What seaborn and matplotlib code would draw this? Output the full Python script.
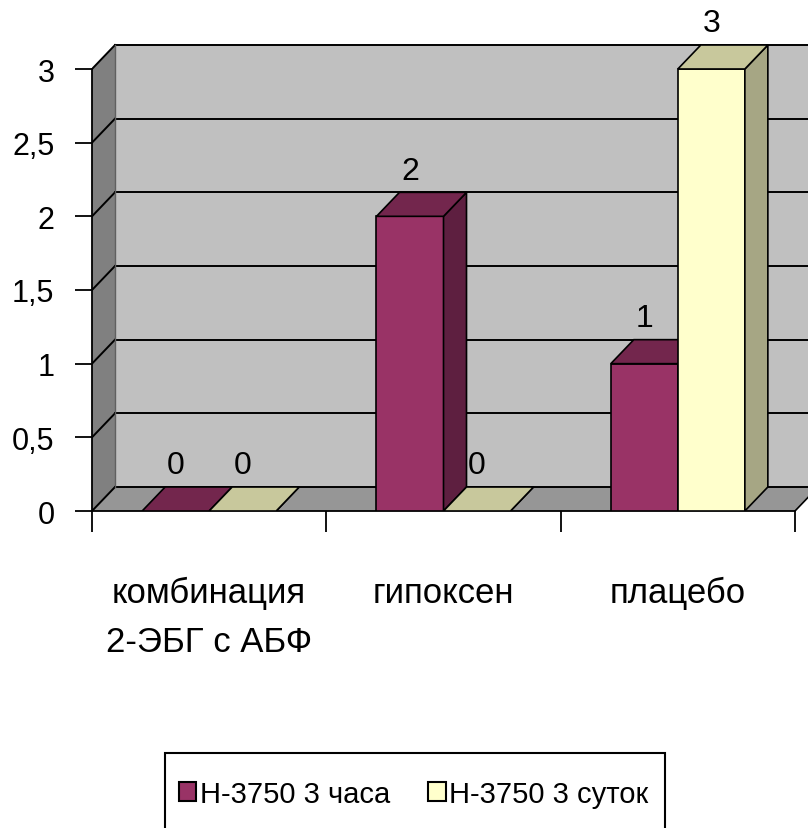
import matplotlib
matplotlib.use("Agg")
import matplotlib.pyplot as plt
from matplotlib.patches import Polygon, Rectangle
import seaborn as sns
import pandas as pd

# --- data -------------------------------------------------------------
groups = ["комбинация\n2-ЭБГ с АБФ", "гипоксен", "плацебо"]
series = ["Н-3750 3 часа", "Н-3750 3 суток"]
hours3 = [0, 2, 1]
days3 = [0, 0, 3]
y_ticks = [0, 0.5, 1, 1.5, 2, 2.5, 3]
y_tick_labels = ["0", "0,5", "1", "1,5", "2", "2,5", "3"]

df = pd.DataFrame({
    "group": groups * 2,
    "series": [series[0]] * 3 + [series[1]] * 3,
    "value": hours3 + days3,
})

# --- styling ----------------------------------------------------------
plt.rcParams["font.family"] = ["Liberation Sans", "DejaVu Sans"]

front = {series[0]: "#993366", series[1]: "#FFFFCC"}
top_col = {"#993366": "#73264D", "#FFFFCC": "#C8C89C"}
side_col = {"#993366": "#5E1F40", "#FFFFCC": "#A6A684"}
wall_back = "#C0C0C0"
wall_side = "#808080"
floor_col = "#969696"

W, H, DPI = 808, 829, 100
fig = plt.figure(figsize=(W / DPI, H / DPI), dpi=DPI)

# front plane: x from 92px (cat -0.5) to 795px (cat 2.5); y=0 at 512px, y=3 at 70px
px_cat = (795 - 92) / 3.0
px_val = (512 - 70) / 3.0
ax_left, ax_bottom = 92, 512
ax_right, ax_top = 808, 10
ax = fig.add_axes([ax_left / W, (H - ax_bottom) / H,
                   (ax_right - ax_left) / W, (ax_bottom - ax_top) / H])
x_lo, x_hi = -0.5, 2.5 + (ax_right - 795) / px_cat
y_lo, y_hi = 0, (ax_bottom - ax_top) / px_val

# depth of the 3-D box in data units
dx = 23 / px_cat
dy = 24 / px_val
bar_group_width = 0.572

sns.barplot(data=df, x="group", y="value", hue="series", palette=front,
            width=bar_group_width, edgecolor="black", linewidth=1.2, ax=ax,
            saturation=1, legend=False, errorbar=None)

# keep only the real column rectangles, one per position
single_w = bar_group_width / 2
bars = {}
for p in ax.patches:
    if abs(p.get_width() - single_w) < 0.02:
        bars.setdefault(round(p.get_x(), 3), p)
bars = [bars[k] for k in sorted(bars)]

# --- walls and floor --------------------------------------------------
x0w = -0.5
ax.add_patch(Polygon([(x0w + dx, dy), (x_hi + 1, dy), (x_hi + 1, 3 + dy), (x0w + dx, 3 + dy)],
                     closed=True, facecolor=wall_back, edgecolor="none", zorder=0.5))
ax.add_patch(Polygon([(x0w, 0), (x0w + dx, dy), (x0w + dx, 3 + dy), (x0w, 3)],
                     closed=True, facecolor=wall_side, edgecolor="none", zorder=0.5))
ax.add_patch(Polygon([(x0w, 0), (2.5, 0), (2.5 + dx, dy), (x0w + dx, dy)],
                     closed=True, facecolor=floor_col, edgecolor="none", zorder=0.6))
for v in y_ticks:
    ax.plot([x0w + dx, x_hi + 1], [v + dy, v + dy], color="black", lw=1.4, zorder=0.8)
    ax.plot([x0w, x0w + dx], [v, v + dy], color="black", lw=1.4, zorder=0.8)
ax.plot([x0w + dx, x0w + dx], [dy, 3 + dy], color="#606060", lw=1.0, zorder=0.8)
ax.plot([2.5, 2.5 + dx], [0, dy], color="black", lw=1.2, zorder=0.8)

# --- 3-D faces of the columns and value labels ----------------------
for i, p in enumerate(bars):
    z = 2 + i * 0.1
    x0, w, h = p.get_x(), p.get_width(), p.get_height()
    fc = matplotlib.colors.to_hex(p.get_facecolor()).upper()
    p.set_zorder(z)
    ax.add_patch(Polygon([(x0 + w, 0), (x0 + w + dx, dy), (x0 + w + dx, h + dy), (x0 + w, h)],
                         closed=True, facecolor=side_col[fc], edgecolor="black",
                         lw=1.2, zorder=z))
    ax.add_patch(Polygon([(x0, h), (x0 + w, h), (x0 + w + dx, h + dy), (x0 + dx, h + dy)],
                         closed=True, facecolor=top_col[fc], edgecolor="black",
                         lw=1.2, zorder=z))
    ax.text(x0 + w / 2, h + dy + 0.045, f"{h:g}", ha="center", va="bottom",
            fontsize=23, color="black", zorder=10)

# --- axes -------------------------------------------------------------
ax.set_xlim(x_lo, x_hi)
ax.set_ylim(y_lo, y_hi)
ax.set_xlabel("")
ax.set_ylabel("")
for s in ("top", "right"):
    ax.spines[s].set_visible(False)
ax.spines["left"].set_bounds(0, 3)
ax.spines["bottom"].set_bounds(-0.5, 2.5)
for s in ("left", "bottom"):
    ax.spines[s].set_linewidth(1.3)
    ax.spines[s].set_zorder(1.5)

ax.set_yticks(y_ticks, y_tick_labels)
ax.tick_params(axis="y", length=12, width=1.3, pad=15, labelsize=22)
ax.set_xticks([0, 1, 2])
ax.set_xticklabels(groups, linespacing=1.6)
ax.tick_params(axis="x", which="major", length=0, pad=47, labelsize=25)
ax.set_xticks([-0.5, 0.5, 1.5, 2.5], minor=True)
ax.tick_params(axis="x", which="minor", length=15, width=1.3, direction="out")
ax.set_facecolor("none")

# --- legend -----------------------------------------------------------
fig.add_artist(Rectangle((165 / W, -0.05), 500 / W, (1 - 754 / H) + 0.05,
                         transform=fig.transFigure, facecolor="none",
                         edgecolor="black", lw=1.5))
handles = [Rectangle((0, 0), 1, 1, facecolor=front[s], edgecolor="black", lw=1.5)
           for s in series]
fig.legend(handles, series, loc="center left",
           bbox_to_anchor=(173 / W, 1 - 795 / H), ncol=2, frameon=False,
           fontsize=21, handlelength=0.6, handleheight=0.6, handletextpad=0.12,
           columnspacing=1.3, borderpad=0.2, borderaxespad=0)

fig.savefig("out.png", dpi=DPI)
